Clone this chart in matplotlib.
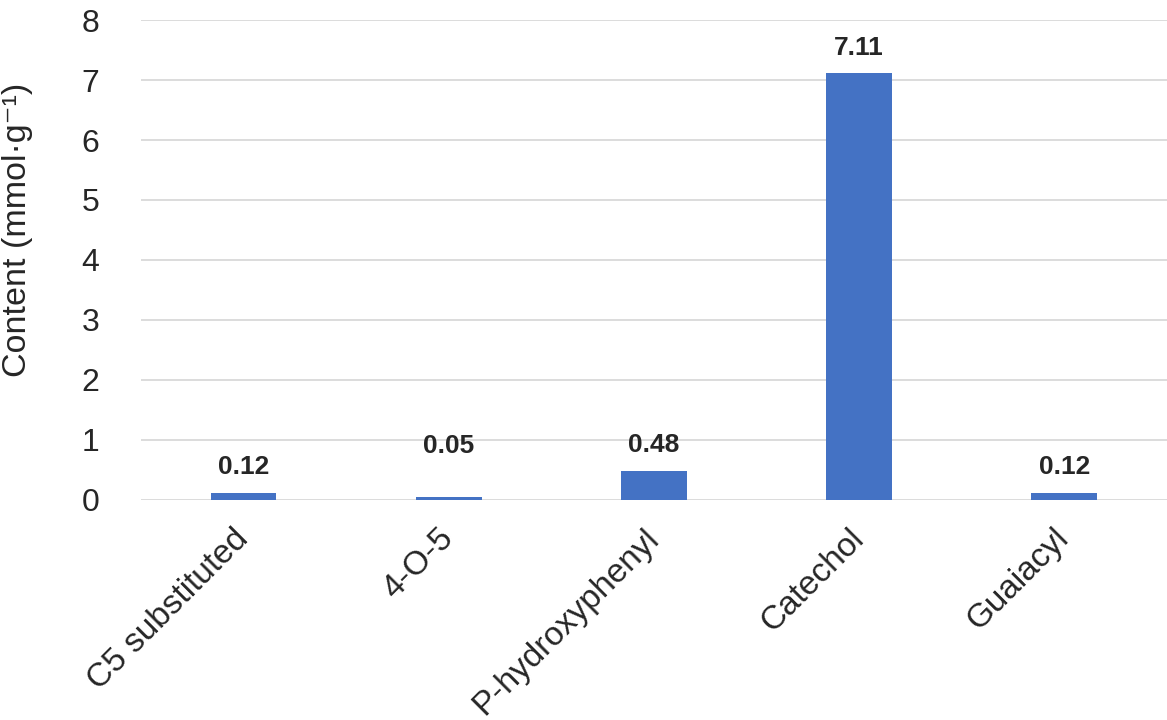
import matplotlib.pyplot as plt
import matplotlib.transforms as mtransforms

plt.rcParams['font.family'] = ['Liberation Sans', 'DejaVu Sans']

# data
categories = ["C5 substituted", "4-O-5", "P-hydroxyphenyl", "Catechol", "Guaiacyl"]
values = [0.12, 0.05, 0.48, 7.11, 0.12]
labels = ["0.12", "0.05", "0.48", "7.11", "0.12"]
y_ticks = [0, 1, 2, 3, 4, 5, 6, 7, 8]

fig = plt.figure(figsize=(11.67, 7.2), dpi=100)
ax = fig.add_axes([0.1208, 0.3056, 0.879, 0.6666])

x = list(range(len(categories)))
ax.bar(x, values, width=0.32, color="#4472C4", zorder=3)

# label offsets in points (Excel put the 4-O-5 label higher)
label_offsets = [10, 28, 10, 10, 10]
for xi, v, lab, off in zip(x, values, labels, label_offsets):
    ax.annotate(lab, (xi, v), xytext=(0, off), textcoords="offset points",
                ha="center", va="bottom", fontsize=19, fontweight="bold",
                color="#262626")

ax.set_xlim(-0.5, len(categories) - 0.5)
ax.set_ylim(0, 8)
ax.set_yticks(y_ticks)
ax.set_xticks(x)
ax.set_xticklabels([])

# rotated category labels, drawn as texts so they can be placed freely
shift = mtransforms.ScaledTranslation(0, -34 / 100, fig.dpi_scale_trans)
for xi, cat in zip(x, categories):
    ax.text(xi, 0, cat, transform=ax.get_xaxis_transform() + shift,
            rotation=45, ha="right", va="center", rotation_mode="anchor",
            fontsize=24, color="#262626")

ax.tick_params(axis="y", labelsize=23, labelcolor="#262626", length=0, pad=30)
ax.tick_params(axis="x", length=0)
ax.set_ylabel("Content (mmol·g⁻¹)", fontsize=24.5, color="#262626")
ax.yaxis.set_label_coords(-0.105, 0.5625)

ax.grid(axis="y", color="#D9D9D9", linewidth=1.3, zorder=0)
for s in ax.spines.values():
    s.set_visible(False)

fig.savefig("out.png", dpi=100)
